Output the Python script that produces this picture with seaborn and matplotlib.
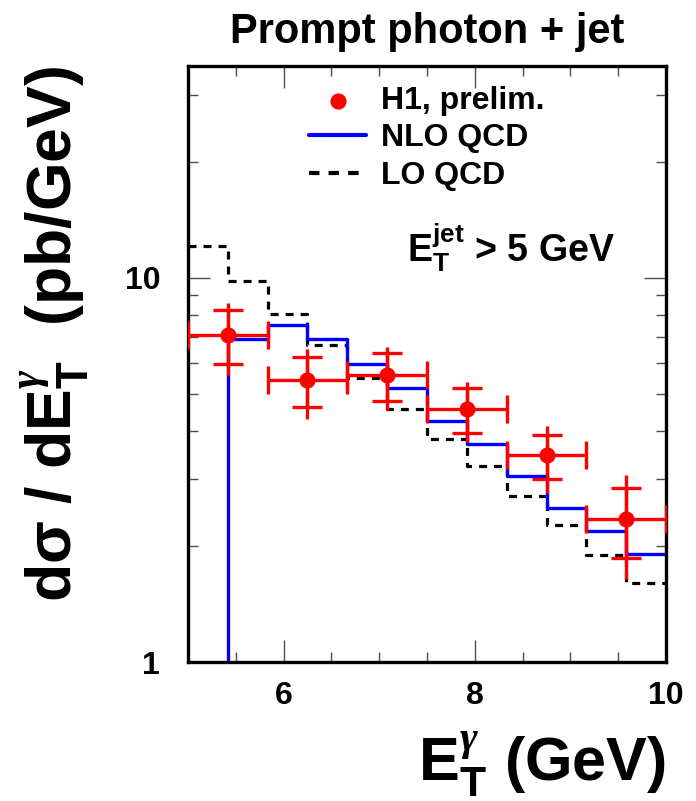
import matplotlib
matplotlib.use("Agg")
import matplotlib.pyplot as plt
import matplotlib.ticker as ticker
import numpy as np
import seaborn as sns

# theory histogram bins (12 bins from 5 to 10 GeV)
theory_edges = np.linspace(5.0, 10.0, 13)
nlo_qcd = [0.1, 6.94, 7.54, 6.92, 5.97, 5.17, 4.25, 3.70, 3.05, 2.52, 2.19, 1.91]
lo_qcd = [12.14, 9.83, 8.06, 6.69, 5.50, 4.57, 3.81, 3.23, 2.70, 2.27, 1.90, 1.61]

# H1 preliminary data (6 bins from 5 to 10 GeV)
data_edges = np.linspace(5.0, 10.0, 7)
h1_xsec = [7.10, 5.43, 5.57, 4.56, 3.45, 2.35]
h1_stat_hi = [8.26, 6.22, 6.37, 5.16, 3.90, 2.84]
h1_stat_lo = [5.97, 4.61, 4.79, 3.94, 3.00, 1.87]
h1_tot_hi = [8.60, 6.52, 6.62, 5.37, 4.12, 3.07]
h1_tot_lo = [5.59, 4.29, 4.53, 3.75, 2.75, 1.64]

sns.set_theme(style="ticks")
plt.rcParams["font.family"] = ["Liberation Sans", "DejaVu Sans"]
plt.rcParams["font.weight"] = "bold"
plt.rcParams["mathtext.fontset"] = "custom"
plt.rcParams["mathtext.rm"] = "Liberation Sans:bold"
plt.rcParams["mathtext.bf"] = "Liberation Sans:bold"
plt.rcParams["mathtext.it"] = "Liberation Serif:italic"
plt.rcParams["mathtext.default"] = "rm"
for key in ["text.color", "axes.labelcolor", "xtick.labelcolor", "ytick.labelcolor"]:
    plt.rcParams[key] = "black"

fig = plt.figure(figsize=(6.96, 8.01), dpi=100)
ax = fig.add_axes([0.270, 0.1735, 0.687, 0.7435])

# step histograms for the QCD predictions
x_steps = list(theory_edges)
sns.lineplot(x=x_steps, y=lo_qcd + [lo_qcd[-1]], ax=ax, estimator=None, sort=False,
             drawstyle="steps-post", color="black", linewidth=2.3, linestyle=(0, (2.5, 2.2)),
             label="LO QCD")
sns.lineplot(x=x_steps, y=nlo_qcd + [nlo_qcd[-1]], ax=ax, estimator=None, sort=False,
             drawstyle="steps-post", color="blue", linewidth=2.4, label="NLO QCD")

# data points
x_c = (data_edges[:-1] + data_edges[1:]) / 2
x_half = (data_edges[1:] - data_edges[:-1]) / 2
y = np.array(h1_xsec)
tot_err = [y - np.array(h1_tot_lo), np.array(h1_tot_hi) - y]
stat_err = [y - np.array(h1_stat_lo), np.array(h1_stat_hi) - y]
red = "#ff0000"
ax.errorbar(x_c, y, xerr=x_half, fmt="none", ecolor=red, elinewidth=2.4, capsize=10, capthick=2.4, zorder=4)
ax.errorbar(x_c, y, yerr=tot_err, fmt="none", ecolor=red, elinewidth=2.4, capsize=0, zorder=4)
ax.errorbar(x_c, y, yerr=stat_err, fmt="none", ecolor=red, elinewidth=2.4, capsize=11, capthick=2.4, zorder=4)
sns.scatterplot(x=x_c, y=y, ax=ax, color=red, s=135, edgecolor=red, linewidth=0, zorder=5,
                label="H1, prelim.")

ax.set_yscale("log")
ax.set_xlim(5, 10)
ax.set_ylim(1, 35.5)

ax.xaxis.set_major_locator(ticker.MultipleLocator(2))
ax.xaxis.set_minor_locator(ticker.MultipleLocator(0.5))
ax.set_yticks([1, 10])
ax.set_yticklabels(["1", "10"])
ax.yaxis.set_minor_locator(ticker.LogLocator(base=10, subs=np.arange(2, 10)))
ax.yaxis.set_minor_formatter(ticker.NullFormatter())

ax.tick_params(which="both", direction="in", top=True, right=True, color="0.3", width=1.0,
               labelsize=23)
ax.tick_params(which="major", length=16)
ax.tick_params(which="minor", length=7)
ax.tick_params(axis="y", pad=20)
ax.tick_params(axis="x", pad=14)
for spine in ax.spines.values():
    spine.set_linewidth(2.4)
    spine.set_color("black")

ax.set_title("Prompt photon + jet", fontsize=30, fontweight="bold", pad=17)
ax.set_xlabel(r"$E_{T}^{\mathit{\gamma}}$ (GeV)", fontsize=44, fontweight="bold", loc="right", labelpad=13)
ax.set_ylabel(r"$d\sigma$ / $dE_{T}^{\mathit{\gamma}}$  (pb/GeV)", fontsize=45, fontweight="bold",
              loc="top", labelpad=24)

ax.text(0.458, 0.696, r"$E_{T}^{jet}$ > 5 GeV", transform=ax.transAxes, fontsize=27,
        fontweight="bold", ha="left", va="center")

handles, labels = ax.get_legend_handles_labels()
order = [labels.index("H1, prelim."), labels.index("NLO QCD"), labels.index("LO QCD")]
leg = ax.legend([handles[i] for i in order], [labels[i] for i in order], loc="upper left",
                bbox_to_anchor=(0.253, 0.967), frameon=False, fontsize=23, handlelength=1.8,
                handletextpad=0.45, labelspacing=0.23, borderpad=0, borderaxespad=0)
for line in leg.get_lines():
    line.set_linewidth(3.0)

fig.savefig("out.png", dpi=100)
plt.close(fig)
